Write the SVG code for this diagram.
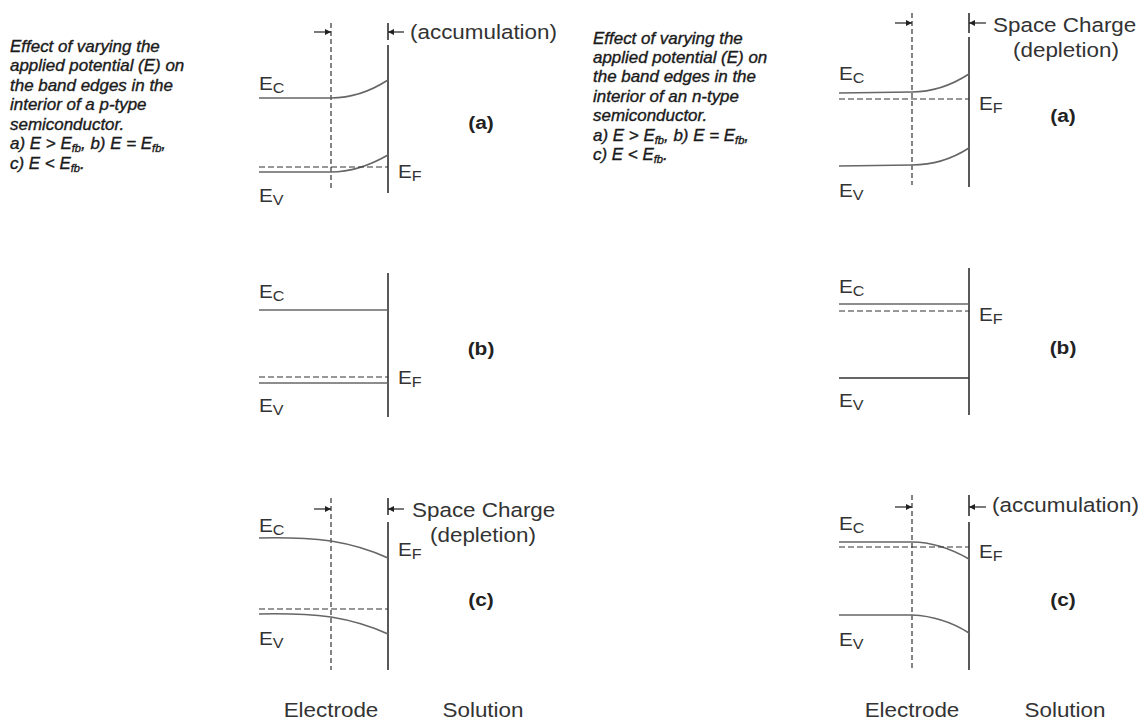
<svg xmlns="http://www.w3.org/2000/svg" width="1142" height="720" viewBox="0 0 1142 720">
<style>
  text { font-family: "Liberation Sans", Arial, sans-serif; fill: #222; }
  .cap { font-size: 16px; font-style: italic; fill: #1a1a1a; stroke: #1a1a1a; stroke-width: 0.35px; }
  .sub-fb { font-size: 10.5px; }
  .lbl { font-size: 18px; fill: #333; }
  .lsub { font-size: 14px; }
  .big { font-size: 19.5px; fill: #333; }
  .panel { font-size: 19px; font-weight: bold; text-anchor: middle; }
  .mid { text-anchor: middle; }
  .band { fill: none; stroke: #666; stroke-width: 1.6; }
  .fermi { fill: none; stroke: #333; stroke-width: 1.2; stroke-dasharray: 6 3; }
  .iface { fill: none; stroke: #222; stroke-width: 1.5; }
  .sc { fill: none; stroke: #333; stroke-width: 1.2; stroke-dasharray: 5 3; }
  .arr { fill: none; stroke: #222; stroke-width: 1.2; marker-end: url(#ah); }
</style>
<defs>
  <marker id="ah" viewBox="0 0 10 10" refX="10" refY="5" markerWidth="7" markerHeight="6" markerUnits="userSpaceOnUse" orient="auto">
    <path d="M0,0 L10,5 L0,10 z" fill="#222"/>
  </marker>
</defs>
<rect width="1142" height="720" fill="#fff"/>

<!-- captions -->
<g id="caption-p">
  <text class="cap" transform="translate(10 52) scale(1.06 1)">
    <tspan x="0" dy="0">Effect of varying the</tspan>
    <tspan x="0" dy="19.5">applied potential (E) on</tspan>
    <tspan x="0" dy="19.5">the band edges in the</tspan>
    <tspan x="0" dy="19.5">interior of a p-type</tspan>
    <tspan x="0" dy="19.5">semiconductor.</tspan>
    <tspan x="0" dy="19.5">a) E &gt; E</tspan><tspan class="sub-fb" dy="3">fb</tspan><tspan dy="-3">, b) E = E</tspan><tspan class="sub-fb" dy="3">fb</tspan><tspan dy="-3">,</tspan>
    <tspan x="0" dy="19.5">c) E &lt; E</tspan><tspan class="sub-fb" dy="3">fb</tspan><tspan dy="-3">.</tspan>
  </text>
</g>
<g id="caption-n">
  <text class="cap" transform="translate(593 43.5) scale(1.06 1)">
    <tspan x="0" dy="0">Effect of varying the</tspan>
    <tspan x="0" dy="19.5">applied potential (E) on</tspan>
    <tspan x="0" dy="19.5">the band edges in the</tspan>
    <tspan x="0" dy="19.5">interior of an n-type</tspan>
    <tspan x="0" dy="19.5">semiconductor.</tspan>
    <tspan x="0" dy="19.5">a) E &gt; E</tspan><tspan class="sub-fb" dy="3">fb</tspan><tspan dy="-3">, b) E = E</tspan><tspan class="sub-fb" dy="3">fb</tspan><tspan dy="-3">,</tspan>
    <tspan x="0" dy="19.5">c) E &lt; E</tspan><tspan class="sub-fb" dy="3">fb</tspan><tspan dy="-3">.</tspan>
  </text>
</g>

<!-- p-type (a) accumulation -->
<g id="p-a">
  <line class="sc" x1="331" y1="23" x2="331" y2="190"/>
  <line class="iface" x1="388" y1="23" x2="388" y2="40"/>
  <line class="iface" x1="388" y1="45" x2="388" y2="193"/>
  <path class="band" d="M259,98 L331,98 C355,98 374,89 388,80"/>
  <path class="band" d="M259,172 L331,172 C355,172 374,163 388,155"/>
  <line class="fermi" x1="259" y1="167" x2="388" y2="167"/>
  <text class="big" transform="translate(410 38.5) scale(1.15 1)">(accumulation)</text>
  <text class="lbl" transform="translate(259 90) scale(1.15 1)">E<tspan class="lsub" dy="2.5">C</tspan></text>
  <text class="lbl" transform="translate(398 178) scale(1.15 1)">E<tspan class="lsub" dy="2.5">F</tspan></text>
  <text class="lbl" transform="translate(259 202) scale(1.15 1)">E<tspan class="lsub" dy="2.5">V</tspan></text>
  <text class="panel" transform="translate(481 129) scale(1.1 1)">(a)</text>
</g>

<!-- p-type (b) flat band -->
<g id="p-b">
  <line class="iface" x1="388" y1="273" x2="388" y2="417"/>
  <line class="band" x1="259" y1="310" x2="388" y2="310"/>
  <line class="fermi" x1="259" y1="377" x2="388" y2="377"/>
  <line class="band" x1="259" y1="383" x2="388" y2="383"/>
  <text class="lbl" transform="translate(259 298) scale(1.15 1)">E<tspan class="lsub" dy="2.5">C</tspan></text>
  <text class="lbl" transform="translate(398 384) scale(1.15 1)">E<tspan class="lsub" dy="2.5">F</tspan></text>
  <text class="lbl" transform="translate(259 412) scale(1.15 1)">E<tspan class="lsub" dy="2.5">V</tspan></text>
  <text class="panel" transform="translate(481 355) scale(1.1 1)">(b)</text>
</g>

<!-- p-type (c) depletion -->
<g id="p-c">
  <line class="sc" x1="331" y1="498" x2="331" y2="670"/>
  <line class="iface" x1="388" y1="498" x2="388" y2="515"/>
  <line class="iface" x1="388" y1="522" x2="388" y2="670"/>
  <path class="band" d="M259,538 Q300,537 331,541 Q362,546 388,558"/>
  <path class="band" d="M259,614 Q300,613 331,617 Q362,622 388,634"/>
  <line class="fermi" x1="259" y1="609" x2="388" y2="609"/>
  <text class="big" transform="translate(412 517) scale(1.15 1)">Space Charge</text>
  <text class="big" transform="translate(430 542) scale(1.15 1)">(depletion)</text>
  <text class="lbl" transform="translate(259 532) scale(1.15 1)">E<tspan class="lsub" dy="2.5">C</tspan></text>
  <text class="lbl" transform="translate(398 556) scale(1.15 1)">E<tspan class="lsub" dy="2.5">F</tspan></text>
  <text class="lbl" transform="translate(259 645) scale(1.15 1)">E<tspan class="lsub" dy="2.5">V</tspan></text>
  <text class="panel" transform="translate(481 606) scale(1.1 1)">(c)</text>
  <text class="big mid" transform="translate(331 717) scale(1.15 1)">Electrode</text>
  <text class="big mid" transform="translate(483 717) scale(1.15 1)">Solution</text>
</g>

<!-- n-type (a) depletion -->
<g id="n-a">
  <line class="sc" x1="912" y1="13" x2="912" y2="185"/>
  <line class="iface" x1="969" y1="13" x2="969" y2="33"/>
  <line class="iface" x1="969" y1="37" x2="969" y2="187"/>
  <path class="band" d="M839,93 L912,92 C935,92 955,83 969,74"/>
  <path class="band" d="M839,166 L912,165 C935,165 955,157 969,148"/>
  <line class="fermi" x1="839" y1="99" x2="969" y2="99"/>
  <text class="big" transform="translate(993 31.5) scale(1.15 1)">Space Charge</text>
  <text class="big" transform="translate(1013 57) scale(1.15 1)">(depletion)</text>
  <text class="lbl" transform="translate(839 80) scale(1.15 1)">E<tspan class="lsub" dy="2.5">C</tspan></text>
  <text class="lbl" transform="translate(979 110) scale(1.15 1)">E<tspan class="lsub" dy="2.5">F</tspan></text>
  <text class="lbl" transform="translate(839 197) scale(1.15 1)">E<tspan class="lsub" dy="2.5">V</tspan></text>
  <text class="panel" transform="translate(1063 122) scale(1.1 1)">(a)</text>
</g>

<!-- n-type (b) flat band -->
<g id="n-b">
  <line class="iface" x1="969" y1="268" x2="969" y2="415"/>
  <line class="band" x1="839" y1="304" x2="969" y2="304"/>
  <line class="fermi" x1="839" y1="311" x2="969" y2="311"/>
  <line class="band" x1="839" y1="378" x2="969" y2="378" style="stroke:#333"/>
  <text class="lbl" transform="translate(839 293) scale(1.15 1)">E<tspan class="lsub" dy="2.5">C</tspan></text>
  <text class="lbl" transform="translate(979 321) scale(1.15 1)">E<tspan class="lsub" dy="2.5">F</tspan></text>
  <text class="lbl" transform="translate(839 407) scale(1.15 1)">E<tspan class="lsub" dy="2.5">V</tspan></text>
  <text class="panel" transform="translate(1063 354) scale(1.1 1)">(b)</text>
</g>

<!-- n-type (c) accumulation -->
<g id="n-c">
  <line class="sc" x1="912" y1="495" x2="912" y2="670"/>
  <line class="iface" x1="969" y1="495" x2="969" y2="516"/>
  <line class="iface" x1="969" y1="522" x2="969" y2="670"/>
  <path class="band" d="M839,542 L912,542 C935,542 955,551 969,559"/>
  <path class="band" d="M839,615 L912,615 C935,616 955,624 969,633"/>
  <line class="fermi" x1="839" y1="547" x2="969" y2="547"/>
  <text class="big" transform="translate(992 512) scale(1.15 1)">(accumulation)</text>
  <text class="lbl" transform="translate(839 530) scale(1.15 1)">E<tspan class="lsub" dy="2.5">C</tspan></text>
  <text class="lbl" transform="translate(979 558) scale(1.15 1)">E<tspan class="lsub" dy="2.5">F</tspan></text>
  <text class="lbl" transform="translate(839 646) scale(1.15 1)">E<tspan class="lsub" dy="2.5">V</tspan></text>
  <text class="panel" transform="translate(1063 606) scale(1.1 1)">(c)</text>
  <text class="big mid" transform="translate(912 717) scale(1.15 1)">Electrode</text>
  <text class="big mid" transform="translate(1065 717) scale(1.15 1)">Solution</text>
</g>

<!-- space-charge width arrows -->
<g id="connectors">
  <line class="arr" x1="314" y1="32" x2="331" y2="32"/>
  <line class="arr" x1="404" y1="32" x2="388" y2="32"/>
  <line class="arr" x1="314" y1="509" x2="331" y2="509"/>
  <line class="arr" x1="404" y1="509" x2="388" y2="509"/>
  <line class="arr" x1="895" y1="23" x2="912" y2="23"/>
  <line class="arr" x1="986" y1="23" x2="969" y2="23"/>
  <line class="arr" x1="895" y1="507" x2="912" y2="507"/>
  <line class="arr" x1="986" y1="507" x2="969" y2="507"/>
</g>
</svg>
